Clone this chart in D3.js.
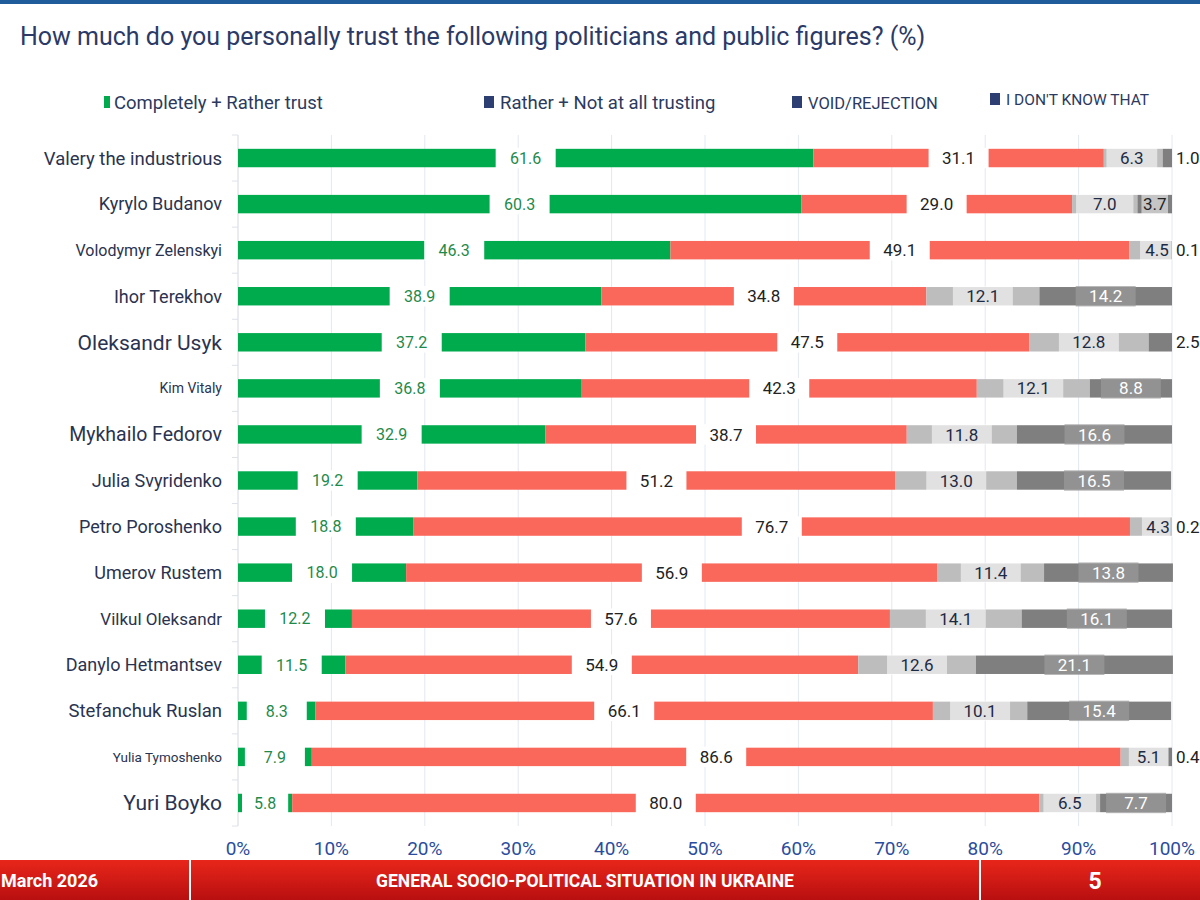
<!DOCTYPE html>
<html>
<head>
<meta charset="utf-8">
<script src="https://cdn.jsdelivr.net/npm/d3@7"></script>
<style>
  body { margin: 0; background: #fff; }
  svg { display: block; font-family: Roboto, "Noto Sans", sans-serif; }
</style>
</head>
<body>
<div id="chart"></div>
<script>
// poll data
const people = ["Valery the industrious", "Kyrylo Budanov", "Volodymyr Zelenskyi", "Ihor Terekhov",
  "Oleksandr Usyk", "Kim Vitaly", "Mykhailo Fedorov", "Julia Svyridenko", "Petro Poroshenko",
  "Umerov Rustem", "Vilkul Oleksandr", "Danylo Hetmantsev", "Stefanchuk Ruslan", "Yulia Tymoshenko", "Yuri Boyko"];
const trust    = [61.6, 60.3, 46.3, 38.9, 37.2, 36.8, 32.9, 19.2, 18.8, 18.0, 12.2, 11.5, 8.3, 7.9, 5.8];
const distrust = [31.1, 29.0, 49.1, 34.8, 47.5, 42.3, 38.7, 51.2, 76.7, 56.9, 57.6, 54.9, 66.1, 86.6, 80.0];
const rejected = [6.3, 7.0, 4.5, 12.1, 12.8, 12.1, 11.8, 13.0, 4.3, 11.4, 14.1, 12.6, 10.1, 5.1, 6.5];
const dontKnow = [1.0, 3.7, 0.1, 14.2, 2.5, 8.8, 16.6, 16.5, 0.2, 13.8, 16.1, 21.1, 15.4, 0.4, 7.7];
const seriesNames = ["Completely + Rather trust", "Rather + Not at all trusting", "VOID/REJECTION", "I DON'T KNOW THAT"];
const ticks = [0, 10, 20, 30, 40, 50, 60, 70, 80, 90, 100];

// the original slide uses uneven font sizes for the names
const nameSize = [18.5, 18, 16, 18, 21, 14, 19.5, 18, 18, 18, 17, 18, 18.5, 13.5, 21];

const W = 1200, H = 900;
const svg = d3.select("#chart").append("svg").attr("width", W).attr("height", H);

const keys = ["trust", "distrust", "rejected", "dontKnow"];
const rows = people.map((p, i) => ({
  name: p, trust: trust[i], distrust: distrust[i], rejected: rejected[i], dontKnow: dontKnow[i]
}));
const stacked = d3.stack().keys(keys)(rows);

const x = d3.scaleLinear().domain([0, 100]).range([238, 1172]);
const y = d3.scaleBand().domain(people).range([135, 826]).paddingInner(0.6).paddingOuter(0.3);
const color = d3.scaleOrdinal().domain(keys).range(["#00AB4E", "#FA675B", "#BDBDBD", "#7F7F7F"]);
const textColor = { trust: "#1E8A4A", distrust: "#222", rejected: "#1d2a44", dontKnow: "#fff" };

// top stripe
svg.append("rect").attr("x", 0).attr("y", 0).attr("width", W).attr("height", 4).attr("fill", "#1E5C9C");

// title
svg.append("text").attr("x", 20).attr("y", 45)
  .attr("fill", "#2B3A67").style("font-size", "25px")
  .text("How much do you personally trust the following politicians and public figures? (%)");

// legend
const legendX = [104, 484, 792, 990];
const legendY = [103, 103, 103, 100];
const legendSize = [18.5, 18.5, 16.5, 15.5];
const lg = svg.append("g");
seriesNames.forEach((s, i) => {
  lg.append("rect").attr("x", legendX[i]).attr("y", legendY[i] - 7)
    .attr("width", i === 0 ? 6 : 10).attr("height", 12)
    .attr("fill", i === 0 ? "#00AB4E" : "#2D3E72");
  lg.append("text").attr("x", legendX[i] + (i === 0 ? 10 : 16)).attr("y", legendY[i])
    .attr("dy", "0.35em").attr("fill", "#2B3A5E")
    .style("font-size", legendSize[i] + "px").text(s);
});

// grid
svg.append("g").selectAll("line").data(ticks).join("line")
  .attr("x1", d => x(d)).attr("x2", d => x(d))
  .attr("y1", 135).attr("y2", 826)
  .attr("stroke", d => d === 0 ? "#d3d8e2" : "#e3e8f1").attr("stroke-width", 1);

// left tick marks between rows
svg.append("g").selectAll("line").data(d3.range(people.length + 1)).join("line")
  .attr("x1", 232).attr("x2", 238)
  .attr("y1", i => 135 + i * y.step()).attr("y2", i => 135 + i * y.step())
  .attr("stroke", "#dde2ea");

// names
svg.append("g").selectAll("text").data(people).join("text")
  .attr("x", 222).attr("y", d => y(d) + y.bandwidth() / 2)
  .attr("dy", "0.35em").attr("text-anchor", "end")
  .attr("fill", "#2A3350")
  .style("font-size", (d, i) => nameSize[i] + "px")
  .text(d => d);

// bars
const layer = svg.append("g").selectAll("g").data(stacked).join("g")
  .attr("fill", d => color(d.key));
layer.selectAll("rect").data(d => d).join("rect")
  .attr("x", d => x(d[0]))
  .attr("y", d => y(d.data.name))
  .attr("width", d => x(d[1]) - x(d[0]))
  .attr("height", y.bandwidth());

// value labels
const labels = [];
stacked.forEach(s => {
  s.forEach(d => {
    const v = d.data[s.key];
    let cx = x((d[0] + d[1]) / 2);
    let anchor = "middle";
    let small = false;
    if (s.key === "dontKnow" && v < 3) { cx = x(100) + 4; anchor = "start"; }
    else if (s.key === "dontKnow" && v < 5) { small = true; }
    else if (s.key === "rejected" && v < 7 && d.data.dontKnow < 5) { cx = x(d[0]) + 28; }
    const segW = x(d[1]) - x(d[0]);
    labels.push({ key: s.key, v, cx, anchor, small, segW, cy: y(d.data.name) + y.bandwidth() / 2 });
  });
});

const lab = svg.append("g").selectAll("g").data(labels).join("g");
lab.append("rect")
  .attr("x", d => d.anchor === "middle" ? d.cx - Math.min(30, d.segW / 2 - 4) : d.cx - 2)
  .attr("y", d => d.cy - y.bandwidth() / 2 - 1)
  .attr("width", d => d.anchor === "middle" ? Math.min(60, d.segW - 8) : 30)
  .attr("height", y.bandwidth() + 2)
  .attr("fill", d => d.key === "dontKnow" && !d.small && d.anchor === "middle" ? "#9a9a9a" : "#fff")
  .attr("opacity", d => d.key === "trust" || d.key === "distrust" ? 1 : (d.key === "rejected" || d.small ? 0.55 : 0.7));
lab.append("text")
  .attr("x", d => d.cx).attr("y", d => d.cy)
  .attr("dy", "0.36em").attr("text-anchor", d => d.anchor)
  .attr("fill", d => d.anchor === "start" || d.small ? "#222" : textColor[d.key])
  .style("font-size", d => (d.key === "trust" ? 16 : 17) + "px")
  .text(d => d.v.toFixed(1));

// x axis labels
svg.append("g").selectAll("text").data(ticks).join("text")
  .attr("x", d => x(d)).attr("y", 848).attr("dy", "0.35em")
  .attr("text-anchor", "middle").attr("fill", "#2A4D9E")
  .style("font-size", "19px")
  .text(d => d + "%");

// footer band
const grad = svg.append("defs").append("linearGradient").attr("id", "foot")
  .attr("x1", 0).attr("x2", 0).attr("y1", 0).attr("y2", 1);
grad.append("stop").attr("offset", "0%").attr("stop-color", "#E8261A");
grad.append("stop").attr("offset", "100%").attr("stop-color", "#B80F10");
svg.append("rect").attr("x", 0).attr("y", 860).attr("width", W).attr("height", 40).attr("fill", "url(#foot)");
[190, 980].forEach(fx => svg.append("line").attr("x1", fx).attr("x2", fx).attr("y1", 860).attr("y2", 900)
  .attr("stroke", "#fff").attr("stroke-width", 2));
svg.append("text").attr("x", 1).attr("y", 881).attr("dy", "0.35em").attr("fill", "#fff")
  .style("font-size", "18px").style("font-weight", "bold").text("March 2026");
svg.append("text").attr("x", 585).attr("y", 881).attr("dy", "0.35em").attr("fill", "#fff")
  .attr("text-anchor", "middle").style("font-size", "17.5px").style("font-weight", "bold")
  .text("GENERAL SOCIO-POLITICAL SITUATION IN UKRAINE");
svg.append("text").attr("x", 1095).attr("y", 881).attr("dy", "0.35em").attr("fill", "#fff")
  .attr("text-anchor", "middle").style("font-size", "23px").style("font-weight", "bold").text("5");
</script>
</body>
</html>
